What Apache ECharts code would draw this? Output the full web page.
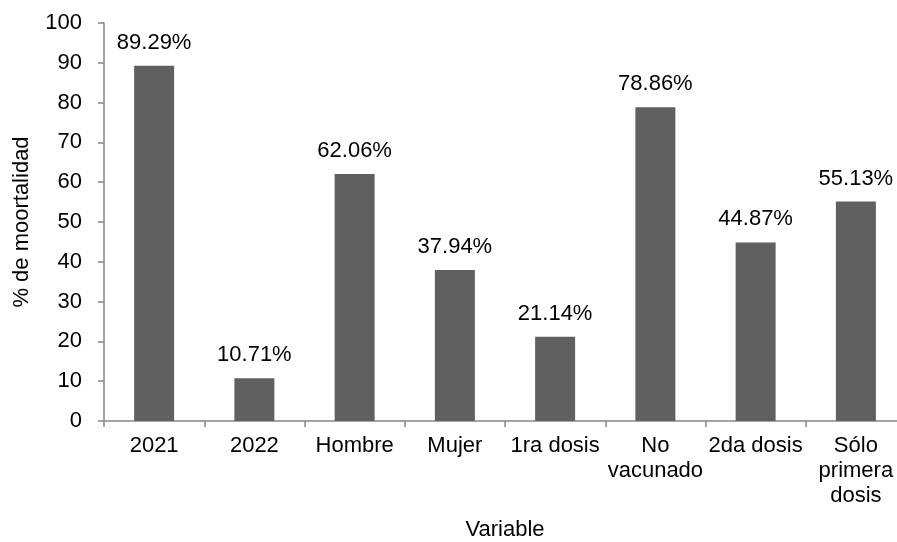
<!DOCTYPE html>
<html>
<head>
<meta charset="utf-8">
<script src="https://cdn.jsdelivr.net/npm/echarts@6/dist/echarts.min.js"></script>
<style>
  html, body { margin: 0; padding: 0; background: #fff; }
  #chart { width: 897px; height: 542px; }
</style>
</head>
<body>
<div id="chart"></div>
<script>
// categorias y porcentajes de mortalidad
const categories = ['2021', '2022', 'Hombre', 'Mujer', '1ra dosis', 'No\nvacunado', '2da dosis', 'Sólo\nprimera\ndosis'];
const mortality = [89.29, 10.71, 62.06, 37.94, 21.14, 78.86, 44.87, 55.13];
const yTicks = [0, 10, 20, 30, 40, 50, 60, 70, 80, 90, 100];

const font = 'Liberation Sans, Arial, sans-serif';
const axisColor = '#868686';

const chart = echarts.init(document.getElementById('chart'));
chart.setOption({
  animation: false,
  grid: {
    left: 104,
    right: -9,
    top: 23,
    bottom: 121,
    containLabel: false,
    outerBoundsMode: 'none'
  },
  xAxis: {
    type: 'category',
    data: categories,
    name: 'Variable',
    nameLocation: 'middle',
    nameGap: 98,
    nameTextStyle: { fontFamily: font, fontSize: 22, color: '#000' },
    axisLine: { lineStyle: { color: axisColor, width: 1.5 } },
    axisTick: { show: true, length: 6, lineStyle: { color: axisColor, width: 1.5 } },
    axisLabel: {
      interval: 0,
      margin: 12,
      fontFamily: font,
      fontSize: 22,
      lineHeight: 25,
      color: '#000'
    }
  },
  yAxis: {
    type: 'value',
    min: yTicks[0],
    max: yTicks[yTicks.length - 1],
    interval: 10,
    name: '% de moortalidad',
    nameLocation: 'middle',
    nameGap: 71,
    nameRotate: 90,
    nameTextStyle: { fontFamily: font, fontSize: 22, color: '#000' },
    splitLine: { show: false },
    axisLine: { show: true, lineStyle: { color: axisColor, width: 1.5 } },
    axisTick: { show: true, length: 6, lineStyle: { color: axisColor, width: 1.5 } },
    axisLabel: {
      margin: 22,
      fontFamily: font,
      fontSize: 22,
      color: '#000'
    }
  },
  series: [
    {
      type: 'bar',
      data: mortality,
      barWidth: 40,
      itemStyle: { color: '#606060' },
      label: {
        show: true,
        position: 'top',
        distance: 12,
        fontFamily: font,
        fontSize: 22,
        color: '#000',
        formatter: p => p.value.toFixed(2) + '%'
      }
    }
  ]
});
</script>
</body>
</html>
